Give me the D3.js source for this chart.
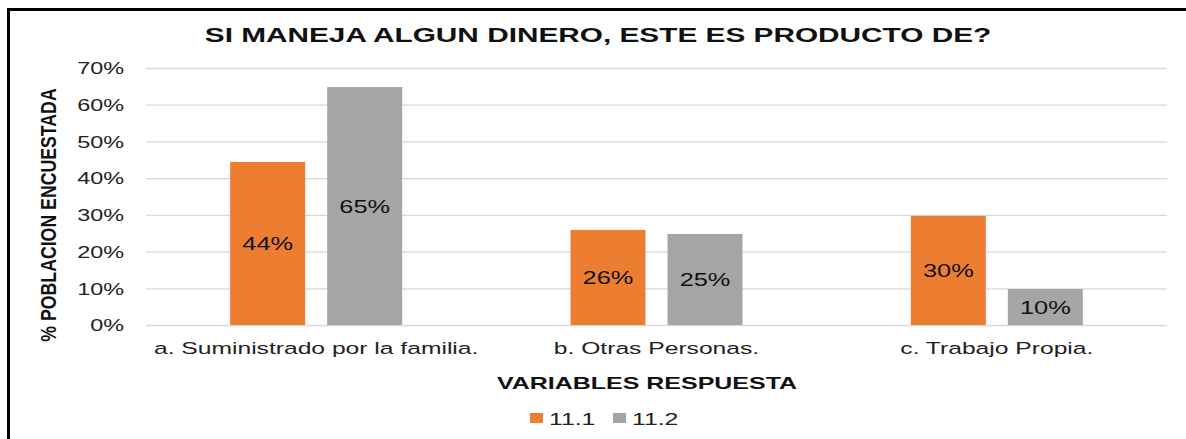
<!DOCTYPE html>
<html>
<head>
<meta charset="utf-8">
<script src="https://cdn.jsdelivr.net/npm/d3@7"></script>
<style>
  body { margin: 0; background: #fff; }
  text { font-family: "Liberation Sans", Arial, sans-serif; }
</style>
</head>
<body>
<svg id="chart" width="1186" height="439"></svg>
<script>
var categories = ["a. Suministrado por la familia.", "b. Otras Personas.", "c. Trabajo Propia."];
var seriesNames = ["11.1", "11.2"];
var values111 = [0.444, 0.259, 0.297];
var values112 = [0.648, 0.248, 0.098];
var yTicks = [0, 0.1, 0.2, 0.3, 0.4, 0.5, 0.6, 0.7];
var colors = ["#ed7d31", "#a5a5a5"];

var svg = d3.select("#chart");

// frame (only top and left edges show)
svg.append("line").attr("x1", 7).attr("x2", 1186).attr("y1", 9.5).attr("y2", 9.5)
    .attr("stroke", "#000").attr("stroke-width", 3);
svg.append("line").attr("x1", 8.5).attr("x2", 8.5).attr("y1", 8).attr("y2", 439)
    .attr("stroke", "#000").attr("stroke-width", 3);

var mLeft = 146, mRight = 1167, mTop = 68, mBottom = 325;

var y = d3.scaleLinear().domain([0, 0.7]).range([mBottom, mTop]);
var x0 = d3.scaleBand().domain(categories).range([mLeft, mRight]);
var x1 = d3.scaleBand().domain(seriesNames)
    .range([x0.bandwidth() / 2 - 86, x0.bandwidth() / 2 + 86])
    .paddingInner(0.227).paddingOuter(0);

// the picture is stretched sideways, so text is widened with a scale
function stretch(sel, sx) {
  sel.each(function() {
    var t = d3.select(this);
    var tx = +t.attr("x") || 0, ty = +t.attr("y") || 0;
    t.attr("x", 0).attr("y", 0)
     .attr("transform", "translate(" + tx + "," + ty + ") scale(" + sx + ",1)");
  });
}

// gridlines
svg.append("g")
    .attr("transform", "translate(" + mLeft + ",0)")
    .call(d3.axisLeft(y).tickValues(yTicks).tickSize(-(mRight - mLeft)).tickFormat(""))
    .call(function(g) {
      g.select(".domain").remove();
      g.selectAll("line").attr("stroke", "#d9d9d9").attr("stroke-width", 1.3);
    });

// y tick labels
svg.append("g")
    .attr("transform", "translate(124,0)")
    .call(d3.axisLeft(y).tickValues(yTicks).tickSize(0).tickPadding(0).tickFormat(d3.format(".0%")))
    .call(function(g) {
      g.select(".domain").remove();
      g.selectAll("text").attr("font-size", 16.5).attr("fill", "#222")
          .attr("font-family", "'Liberation Sans', Arial, sans-serif")
          .attr("x", 0).attr("y", 0).attr("dy", "0.35em")
          .attr("transform", "scale(1.42,1)");
    });

var data = categories.map(function(c, i) {
  return { cat: c, vals: [values111[i], values112[i]] };
});

var groups = svg.selectAll(".grp")
    .data(data)
    .enter().append("g")
    .attr("class", "grp")
    .attr("transform", function(d) { return "translate(" + x0(d.cat) + ",0)"; });

var bars = groups.selectAll("g.bar")
    .data(function(d) { return d.vals.map(function(v, i) { return { s: seriesNames[i], v: v, i: i }; }); })
    .enter().append("g").attr("class", "bar");

bars.append("rect")
    .attr("x", function(d) { return x1(d.s); })
    .attr("width", x1.bandwidth())
    .attr("y", function(d) { return y(d.v); })
    .attr("height", function(d) { return mBottom - y(d.v); })
    .attr("fill", function(d) { return colors[d.i]; });

bars.append("text")
    .attr("x", function(d) { return x1(d.s) + x1.bandwidth() / 2; })
    .attr("y", function(d) { return (y(d.v) + mBottom) / 2 + 7; })
    .attr("text-anchor", "middle")
    .attr("font-size", 17.5)
    .attr("fill", "#111")
    .text(function(d) { return Math.round(d.v * 100) + "%"; })
    .call(stretch, 1.45);

// x axis category labels
svg.append("g")
    .attr("transform", "translate(0," + mBottom + ")")
    .call(d3.axisBottom(x0).tickSize(0).tickPadding(0))
    .call(function(g) {
      g.select(".domain").remove();
      g.selectAll("text").attr("font-size", 17).attr("fill", "#222")
          .attr("font-family", "'Liberation Sans', Arial, sans-serif")
          .attr("y", 0).attr("dy", 0)
          .attr("transform", "translate(0,29) scale(1.45,1)");
    });

// title
svg.append("text")
    .attr("x", 598).attr("y", 42)
    .attr("text-anchor", "middle")
    .attr("font-size", 20).attr("font-weight", "bold").attr("fill", "#111")
    .text("SI MANEJA ALGUN DINERO, ESTE ES PRODUCTO DE?")
    .call(stretch, 1.49);

// axis titles
svg.append("text")
    .attr("transform", "translate(56,215) scale(1.2,1) rotate(-90)")
    .attr("text-anchor", "middle")
    .attr("font-size", 17.7).attr("font-weight", "bold").attr("fill", "#111")
    .text("% POBLACION ENCUESTADA");

svg.append("text")
    .attr("x", 647).attr("y", 389)
    .attr("text-anchor", "middle")
    .attr("font-size", 17).attr("font-weight", "bold").attr("fill", "#111")
    .text("VARIABLES RESPUESTA")
    .call(stretch, 1.47);

// legend
var legendX = [530, 613];
var legend = svg.selectAll(".leg")
    .data(seriesNames)
    .enter().append("g")
    .attr("transform", function(d, i) { return "translate(" + legendX[i] + ",413)"; });
legend.append("rect").attr("width", 13).attr("height", 10)
    .attr("fill", function(d, i) { return colors[i]; });
legend.append("text").attr("x", 19).attr("y", 12)
    .attr("font-size", 16).attr("fill", "#222")
    .text(function(d) { return d; })
    .call(stretch, 1.55);
</script>
</body>
</html>
